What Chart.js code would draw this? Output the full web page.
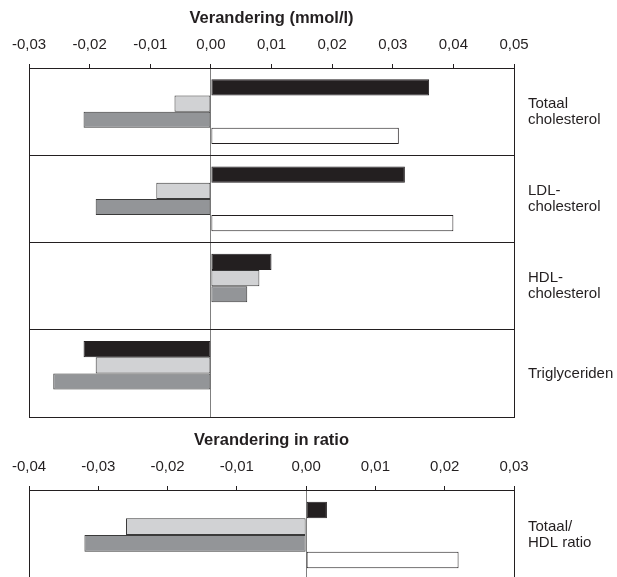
<!DOCTYPE html>
<html>
<head>
<meta charset="utf-8">
<script src="https://cdn.jsdelivr.net/npm/chart.js@4"></script>
<style>
  html, body { margin: 0; padding: 0; background: #fff; overflow: hidden; }
  #lipidWrap { position: absolute; left: 0; top: 0; width: 617px; height: 420px; }
  #ratioWrap { position: absolute; left: 0; top: 422px; width: 617px; height: 160px; }
</style>
</head>
<body>
<div id="lipidWrap"><canvas id="lipidChart"></canvas></div>
<div id="ratioWrap"><canvas id="ratioChart"></canvas></div>
<script>
// top panel: change in mmol/l
const lipidLabels = [['Totaal', 'cholesterol'], ['LDL-', 'cholesterol'], ['HDL-', 'cholesterol'], ['Triglyceriden']];
const lipidBlack = [0.036, 0.032, 0.010, -0.021];
const lipidLight = [-0.006, -0.009, 0.008, -0.019];
const lipidDark = [-0.021, -0.019, 0.006, -0.026];
const lipidWhite = [0.031, 0.040, null, null];
const lipidMin = -0.03, lipidMax = 0.05;

// bottom panel: change in ratio
const ratioLabels = [['Totaal/', 'HDL ratio']];
const ratioBlack = [0.003];
const ratioLight = [-0.026];
const ratioDark = [-0.032];
const ratioWhite = [0.022];
const ratioMin = -0.04, ratioMax = 0.03;

const INK = '#231f20';
Chart.defaults.font.family = '"Liberation Sans", Arial, sans-serif';
Chart.defaults.color = INK;

function fmt(v) {
  if (Math.abs(v) < 1e-9) v = 0;
  return v.toFixed(2).replace('.', ',');
}

function makeSets(black, light, dark, white) {
  const base = { borderWidth: 1, borderSkipped: false, categoryPercentage: 0.74, barPercentage: 1.0 };
  return [
    { ...base, data: black, backgroundColor: INK, borderColor: INK },
    { ...base, data: light, backgroundColor: '#d1d2d4', borderColor: '#3a3a3a' },
    { ...base, data: dark, backgroundColor: '#939598', borderColor: '#3a3a3a' },
    { ...base, data: white, backgroundColor: '#ffffff', borderColor: INK }
  ];
}

function makeChart(canvas, labels, datasets, min, max, title, padBottom) {
  return new Chart(canvas, {
    type: 'bar',
    data: { labels: labels, datasets: datasets },
    options: {
      indexAxis: 'y',
      responsive: true,
      maintainAspectRatio: false,
      animation: false,
      layout: { padding: { left: 29, right: 0, top: 0, bottom: padBottom } },
      plugins: { legend: { display: false }, tooltip: { enabled: false } },
      scales: {
        x: {
          position: 'top',
          min: min,
          max: max,
          ticks: { stepSize: 0.01, padding: 10, font: { size: 15 }, callback: v => fmt(v) },
          grid: {
            color: c => {
              const v = c.tick ? c.tick.value : NaN;
              if (Math.abs(v) < 1e-9) return '#808080';
              if (Math.abs(v - min) < 1e-9 || Math.abs(v - max) < 1e-9) return INK;
              return 'rgba(0,0,0,0)';
            },
            tickColor: INK,
            tickLength: 4
          },
          border: { color: INK, width: 1 },
          title: {
            display: true,
            text: title,
            font: { size: 16.5, weight: 'bold' },
            padding: { top: 9, bottom: 0 }
          },
          afterFit: s => { s.height = 68; }
        },
        y: {
          position: 'right',
          grid: { offset: true, color: INK, drawTicks: false, lineWidth: 1 },
          border: { color: INK, width: 1 },
          ticks: { padding: 14, font: { size: 15, lineHeight: 1.07 } },
          afterFit: s => {
            s.width = 103;
            s.paddingTop = 0;
            s.paddingBottom = 0;
          }
        }
      }
    }
  });
}

makeChart(document.getElementById('lipidChart'), lipidLabels,
  makeSets(lipidBlack, lipidLight, lipidDark, lipidWhite),
  lipidMin, lipidMax, 'Verandering (mmol/l)', 3);

makeChart(document.getElementById('ratioChart'), ratioLabels,
  makeSets(ratioBlack, ratioLight, ratioDark, ratioWhite),
  ratioMin, ratioMax, 'Verandering in ratio', 2);
</script>
</body>
</html>
